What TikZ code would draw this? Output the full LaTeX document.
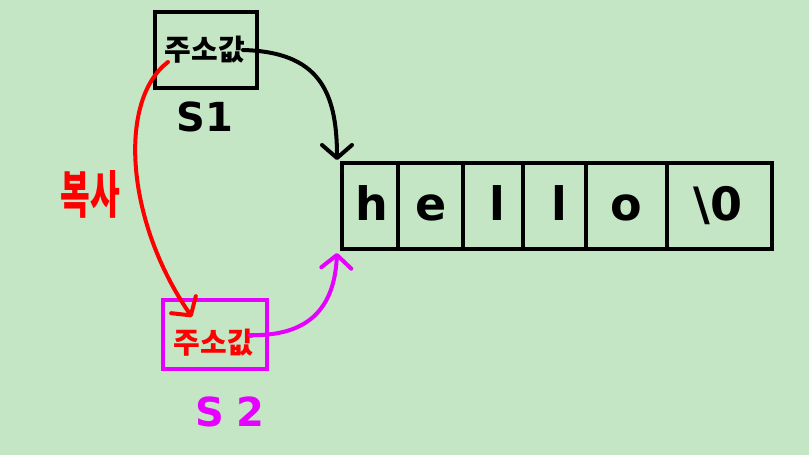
\documentclass[tikz,border=0pt]{standalone}
\usepackage{fontspec}
\newfontfamily\kr{Noto Sans CJK KR}
\newfontfamily\hand{DejaVu Sans}
\usetikzlibrary{arrows.meta}
\definecolor{bg}{RGB}{196,230,197}
\definecolor{mag}{RGB}{230,0,255}
\definecolor{rd}{RGB}{255,0,0}
\tikzset{
  box/.style={draw, line width=4pt, inner sep=0pt},
  cell/.style={draw=black, line width=4pt, minimum height=86pt, inner sep=0pt},
  kt/.style={font=\kr\bfseries\fontsize{29}{31}\selectfont, inner sep=0pt},
  lbl/.style={font=\hand\bfseries\fontsize{40}{44}\selectfont, inner sep=0pt},
  ch/.style={font=\hand\bfseries\fontsize{46}{50}\selectfont, inner sep=0pt, anchor=base},
  conn/.style={line width=4pt, line cap=round, line join=round, -{Straight Barb[length=13pt,width=30pt,round]}},
}
\begin{document}
\begin{tikzpicture}[x=1pt,y=-1pt]
\fill[bg] (0,0) rectangle (809,455);
\useasboundingbox (0,0) rectangle (809,455);
% S1
\node[box, draw=black, minimum width=102pt, minimum height=76pt] (s1) at (206,50) {};
\node[kt, text=black] (s1t) at (205,50) {주소값};
\node[lbl, text=black] (s1l) at (205,117) {S1};
% array
\node[cell, minimum width=56pt] (c1) at (370,206) {};
\node[cell, minimum width=65pt] (c2) at (430.5,206) {};
\node[cell, minimum width=60pt] (c3) at (493,206) {};
\node[cell, minimum width=63pt] (c4) at (554.5,206) {};
\node[cell, minimum width=81pt] (c5) at (626.5,206) {};
\node[cell, minimum width=105pt] (c6) at (719.5,206) {};
\node[ch] (h) at (372,220) {h};
\node[ch] (e) at (431,220) {e};
\node[ch] (l1) at (497,220) {l};
\node[ch] (l2) at (559,220) {l};
\node[ch] (o) at (626,220) {o};
\node[ch] (z) at (718,220) {\textbackslash 0};
% S2
\node[box, draw=mag, minimum width=104pt, minimum height=69pt] (s2) at (215,334.5) {};
\node[kt, text=rd] (s2t) at (214,343) {주소값};
\node[lbl, text=mag] (s2l) at (230,412) {S\hspace{12pt}2};
% copy label
\node[kt, text=rd, font=\kr\bfseries\fontsize{34}{36}\selectfont] (cp) at (90,194) {\scalebox{0.95}[1.5]{복사}};
% connector ends
\coordinate (bs) at (243,50);
\coordinate (bt) at (337,160);
\coordinate (rs) at (168,62);
\coordinate (rt) at (192,317);
\coordinate (ms) at (250,335);
\coordinate (mt) at (337,253);
\draw[conn, black] (bs) .. controls +(75,2) and +(0,-70) .. (bt);
\draw[conn, rd] (rs) .. controls (118,100) and (125,220) .. (rt);
\draw[conn, mag] (ms) .. controls (320,337) and (335,295) .. (mt);
\end{tikzpicture}
\end{document}
